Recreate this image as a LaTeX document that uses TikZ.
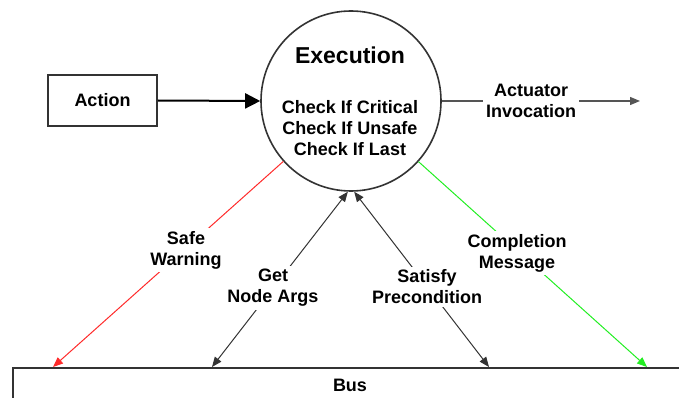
\documentclass[tikz,border=0pt]{standalone}
\usepackage{fontspec}
\setmainfont{Liberation Sans}
\usetikzlibrary{arrows.meta,calc}

\definecolor{edgegray}{HTML}{333333}
\definecolor{actgray}{HTML}{555555}
\definecolor{warnred}{HTML}{FF2A2A}
\definecolor{donegreen}{HTML}{22EE22}

\tikzset{
  txt/.style={font=\fontsize{18pt}{21pt}\selectfont\bfseries, align=center},
  boxed/.style={draw=edgegray, line width=1.6pt, fill=white},
  lbl/.style={txt, fill=white, inner sep=3pt},
  tip/.style={-{Triangle[length=10pt,width=8pt]}},
  duo/.style={{Triangle[length=10pt,width=8pt]}-{Triangle[length=10pt,width=8pt]}},
}

\begin{document}
\begin{tikzpicture}[x=1pt,y=-1pt]
\useasboundingbox (0,0) rectangle (679,398);
\clip (0,0) rectangle (679,398);

% bus running along the bottom, cut by the page edge
\node[boxed, anchor=north west, minimum width=700pt, minimum height=60pt] (bus) at (12,367) {};
\node[txt] (busname) at (350,385) {Bus};

% where the connectors meet the bus
\coordinate (pWarn) at (53,367);
\coordinate (pArgs) at (212,367);
\coordinate (pPre)  at (489,367);
\coordinate (pDone) at (647,367);
\coordinate (pAct)  at (640,101);

% execution stage
\node[boxed, circle, minimum size=180pt, inner sep=0pt] (exec) at (351,101) {};
\node[txt, font=\fontsize{23pt}{27pt}\selectfont\bfseries] (title) at (350,55) {Execution};
\node[txt] (checks) at (350,128) {Check If Critical\\Check If Unsafe\\Check If Last};

% incoming action
\node[boxed, txt, minimum width=109pt, minimum height=51pt, inner sep=0pt] (action) at (102.5,100.5) {Action};
\draw[line width=2pt, -{Triangle[length=15pt,width=15pt]}] (action.east) -- (exec.west);

% outgoing actuator call
\draw[actgray, line width=1.3pt, -{Triangle[length=10pt,width=8pt]}] (exec.east) -- (pAct);
\node[lbl] (actlbl) at (531,101) {Actuator\\Invocation};

% exchanges with the bus
\draw[warnred, line width=1pt, tip] (exec) -- (pWarn);
\draw[edgegray, line width=1pt, duo] (exec.-92) -- (pArgs);
\draw[edgegray, line width=1pt, duo] (exec.-88) -- (pPre);
\draw[donegreen, line width=1pt, tip] (exec) -- (pDone);

\node[lbl] (warnlbl) at (186,250) {Safe\\Warning};
\node[lbl] (argslbl) at (273,288) {Get\\Node Args};
\node[lbl] (prelbl)  at (427,287) {Satisfy\\Precondition};
\node[lbl] (donelbl) at (517,253) {Completion\\Message};
\end{tikzpicture}
\end{document}
